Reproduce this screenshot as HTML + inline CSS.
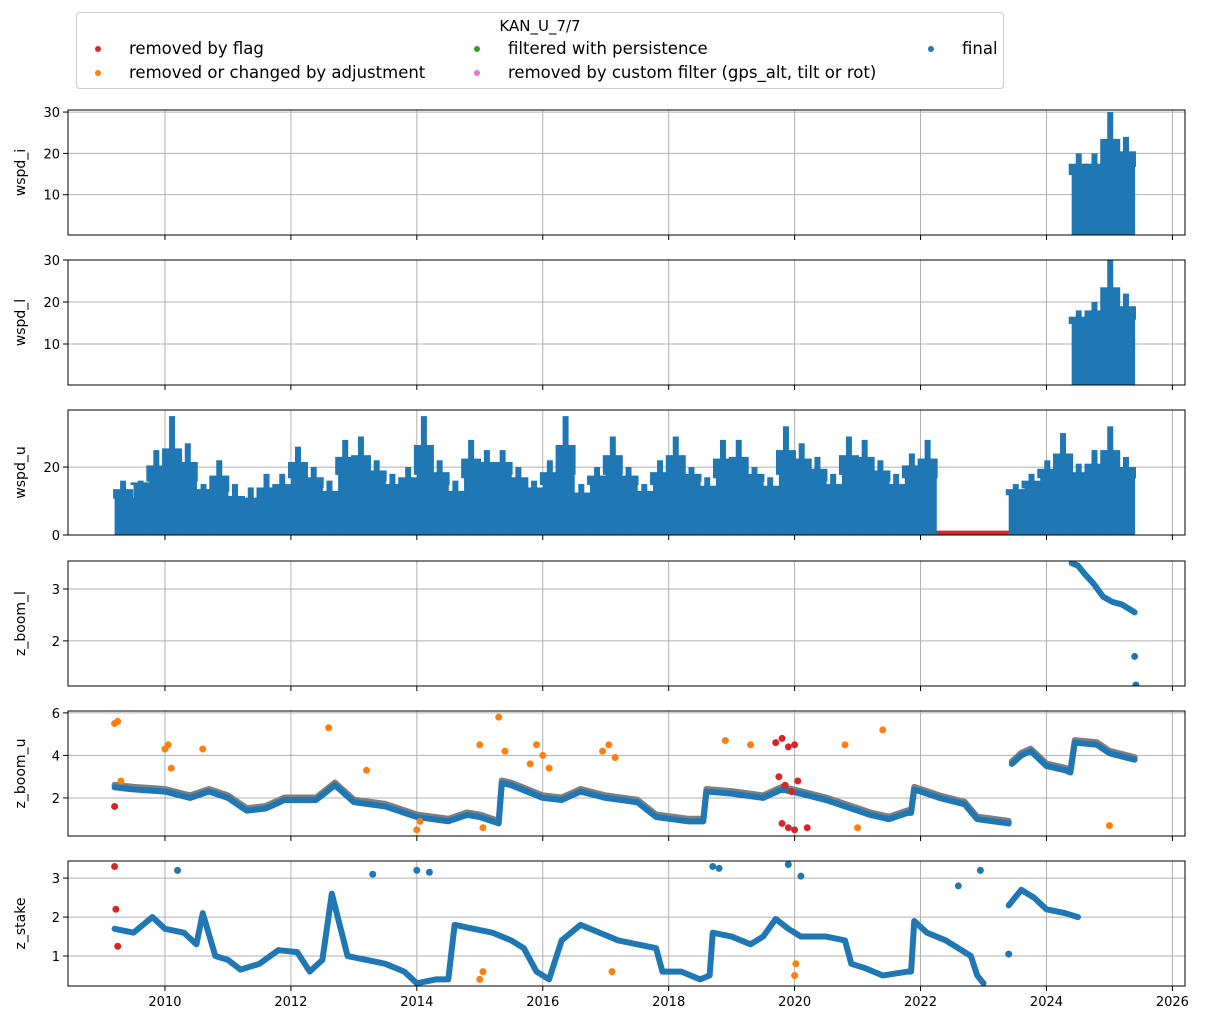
<!DOCTYPE html>
<html><head><meta charset="utf-8">
<style>
body{margin:0;background:#fff;}
svg{display:block;font-family:"DejaVu Sans","Liberation Sans",sans-serif;}
</style></head>
<body>
<svg id="chart" width="1205" height="1025" xmlns="http://www.w3.org/2000/svg"></svg>
<script>
// ---- data ----
const xTicks=[2010,2012,2014,2016,2018,2020,2022,2024,2026];
const wspdUStart=[2009.2,2009.5,2009.75,2010.0,2010.25,2010.5,2010.75,2011.0,2011.25,2011.5,2011.75,2012.0,2012.25,2012.5,2012.75,2013.0,2013.25,2013.5,2013.75,2014.0,2014.25,2014.5,2014.75,2015.0,2015.25,2015.5,2015.75,2016.0,2016.25,2016.5,2016.75,2017.0,2017.25,2017.5,2017.75,2018.0,2018.25,2018.5,2018.75,2019.0,2019.25,2019.5,2019.75,2020.0,2020.25,2020.5,2020.75,2021.0,2021.25,2021.5,2021.75,2022.0];
const wspdUMax=[16,16,25,35,27,15,22,15,14,18,18,26,20,16,28,29,22,18,20,35,22,16,28,25,25,20,16,22,35,15,20,29,20,15,22,29,20,17,28,28,20,17,32,27,23,18,29,28,22,18,24,28];
const wspdUBase=[11,15,16,16,16,12,13,8,8,10,12,17,14,10,18,18,16,12,14,18,15,10,17,18,18,14,12,15,18,10,15,18,15,11,15,18,16,12,17,18,16,12,18,18,16,12,18,18,16,12,17,17];
const wspdUEnd=2022.25;
const wspdU2Start=[2023.4,2023.65,2023.9,2024.15,2024.4,2024.65,2024.9,2025.15];
const wspdU2Max=[15,18,22,30,21,25,32,23];
const wspdU2Base=[12,14,17,18,16,17,18,17];
const wspdU2End=2025.4;
const wspdLStart=[2024.4,2024.65,2024.9,2025.15];
const wspdLMax=[18,20,30,22];
const wspdLBase=[15,16,17,16];
const wspdIMax=[20,20,30,24];
const wspdIBase=[15,15,17,17];
const wspdLEnd=2025.4;
const flagLine=[2022.2,2023.4,0.7];
const zBoomLT=[2024.4,2024.5,2024.6,2024.75,2024.9,2025.05,2025.2,2025.4];
const zBoomLV=[3.5,3.45,3.3,3.1,2.85,2.75,2.7,2.55];
const zBoomLOutT=[2025.4,2025.42];
const zBoomLOutV=[1.7,1.15];
const zUT=[2009.2,2009.5,2010,2010.4,2010.7,2011,2011.3,2011.6,2011.9,2012.4,2012.7,2013,2013.5,2014,2014.5,2014.8,2015.0,2015.3,2015.35,2015.5,2016,2016.3,2016.6,2017,2017.5,2017.8,2018.3,2018.55,2018.6,2019,2019.5,2019.8,2020.1,2020.5,2020.8,2021.2,2021.5,2021.8,2021.85,2021.9,2022.3,2022.7,2022.9,2023.4];
const zUV=[2.5,2.4,2.3,2.0,2.3,2.0,1.4,1.5,1.9,1.9,2.6,1.8,1.6,1.1,0.9,1.2,1.1,0.8,2.7,2.6,2.0,1.9,2.3,2.0,1.8,1.1,0.9,0.9,2.3,2.2,2.0,2.4,2.2,1.9,1.6,1.2,1.0,1.3,1.3,2.4,2.0,1.7,1.0,0.8];
const zU2T=[2023.45,2023.6,2023.75,2024.0,2024.3,2024.38,2024.45,2024.8,2025.0,2025.4];
const zU2V=[3.6,4.0,4.2,3.5,3.3,3.2,4.6,4.5,4.1,3.8];
const zUOrT=[2009.2,2009.25,2009.3,2010,2010.05,2010.1,2010.6,2012.6,2013.2,2014,2014.05,2015,2015.05,2015.3,2015.4,2015.8,2015.9,2016.0,2016.1,2016.95,2017.05,2017.15,2018.9,2019.3,2020.8,2021.0,2021.4,2025.0];
const zUOrV=[5.5,5.6,2.8,4.3,4.5,3.4,4.3,5.3,3.3,0.5,0.9,4.5,0.6,5.8,4.2,3.6,4.5,4.0,3.4,4.2,4.5,3.9,4.7,4.5,4.5,0.6,5.2,0.7];
const zURedT=[2009.2,2019.7,2019.8,2019.9,2020.0,2019.75,2019.85,2019.95,2020.05,2019.8,2019.9,2020.0,2020.2];
const zURedV=[1.6,4.6,4.8,4.4,4.5,3.0,2.6,2.3,2.8,0.8,0.6,0.5,0.6];
const zSt=[2009.2,2009.5,2009.8,2010.0,2010.3,2010.5,2010.6,2010.8,2011.0,2011.2,2011.5,2011.8,2012.1,2012.3,2012.5,2012.65,2012.9,2013.2,2013.5,2013.8,2014.0,2014.3,2014.5,2014.6,2014.9,2015.2,2015.5,2015.7,2015.9,2016.1,2016.3,2016.6,2016.9,2017.2,2017.5,2017.8,2017.9,2018.2,2018.5,2018.65,2018.7,2019.0,2019.3,2019.5,2019.7,2019.9,2020.1,2020.5,2020.8,2020.9,2021.1,2021.4,2021.8,2021.85,2021.9,2022.1,2022.4,2022.6,2022.8,2022.9,2023.0];
const zSv=[1.7,1.6,2.0,1.7,1.6,1.3,2.1,1.0,0.9,0.65,0.8,1.15,1.1,0.6,0.9,2.6,1.0,0.9,0.8,0.6,0.3,0.4,0.4,1.8,1.7,1.6,1.4,1.2,0.6,0.4,1.4,1.8,1.6,1.4,1.3,1.2,0.6,0.6,0.4,0.5,1.6,1.5,1.3,1.5,1.95,1.7,1.5,1.5,1.4,0.8,0.7,0.5,0.6,0.6,1.9,1.6,1.4,1.2,1.0,0.5,0.3];
const zS2t=[2023.4,2023.6,2023.8,2024.0,2024.3,2024.5];
const zS2v=[2.3,2.7,2.5,2.2,2.1,2.0];
const zSOutT=[2010.2,2013.3,2014.0,2014.2,2018.7,2018.8,2019.9,2020.1,2022.6,2022.95,2023.4];
const zSOutV=[3.2,3.1,3.2,3.15,3.3,3.25,3.35,3.05,2.8,3.2,1.05];
const zSRedT=[2009.2,2009.22,2009.25];
const zSRedV=[3.3,2.2,1.25];
const zSOrT=[2015.0,2015.05,2017.1,2020.0,2020.02];
const zSOrV=[0.4,0.6,0.6,0.5,0.8];

// ---- helpers ----
const NS="http://www.w3.org/2000/svg";
const svg=document.getElementById('chart');
const X0=68,X1=1185,T0=2008.46,T1=2026.2;
const xs=t=>X0+(t-T0)/(T1-T0)*(X1-X0);
const BLUE='#1f77b4',RED='#d62728',OR='#ff7f0e',GRAY='#7f7f7f';
function mk(tag,attrs,name,parent){const e=document.createElementNS(NS,tag);for(const k in attrs)e.setAttribute(k,attrs[k]);


(parent||svg).appendChild(e);return e;}
const panels=[
 {name:'wspd_i',top:110,ymin:0.24,ymax:30.5,ticks:[10,20,30]},
 {name:'wspd_l',top:260,ymin:0.24,ymax:30,ticks:[10,20,30]},
 {name:'wspd_u',top:410,ymin:0,ymax:36.8,ticks:[0,20]},
 {name:'z_boom_l',top:561,ymin:1.13,ymax:3.54,ticks:[2,3]},
 {name:'z_boom_u',top:711,ymin:0.21,ymax:6.09,ticks:[2,4,6]},
 {name:'z_stake',top:861,ymin:0.23,ymax:3.44,ticks:[1,2,3]}];
const H=125;
panels.forEach((p,i)=>{
 p.ys=v=>p.top+H-(v-p.ymin)/(p.ymax-p.ymin)*H;
 const g=mk('g',{},'panel-'+p.name.replace(/_/g,'-'));
 p.g=g;
 const cp=mk('clipPath',{id:'cp'+i},'clip',g);
 mk('rect',{x:X0,y:p.top,width:X1-X0,height:H},'clip-rect',cp);
 xTicks.forEach(t=>{mk('line',{x1:xs(t),x2:xs(t),y1:p.top,y2:p.top+H,stroke:'#b0b0b0','stroke-width':1},'x-grid-line',g);
  mk('line',{x1:xs(t),x2:xs(t),y1:p.top+H,y2:p.top+H+5,stroke:'#000'},'x-tick',g);
  if(i===5){const tx=mk('text',{x:xs(t),y:p.top+H+20,'font-size':13,'text-anchor':'middle'},'x-tick-label',g);tx.textContent=t;}});
 p.ticks.forEach(v=>{const y=p.ys(v);
  mk('line',{x1:X0,x2:X1,y1:y,y2:y,stroke:'#b0b0b0'},'y-grid-line',g);
  mk('line',{x1:X0-5,x2:X0,y1:y,y2:y,stroke:'#000'},'y-tick',g);
  const tx=mk('text',{x:X0-8,y:y+5,'font-size':13,'text-anchor':'end'},'y-tick-label',g);tx.textContent=v;});
 const yl=mk('text',{x:25,y:p.top+H/2,'font-size':14,'text-anchor':'middle',transform:`rotate(-90 25 ${p.top+H/2})`},'y-axis-title',g);yl.textContent=p.name;
 p.d=mk('g',{'clip-path':`url(#cp${i})`},'plot-area',g);
});
function bars(p,starts,maxes,bases,end,color){starts.forEach((t,k)=>{const t2=k+1<starts.length?starts[k+1]:end;
 const yb=p.ys(bases[k]),y0=p.ys(p.ymin);
 mk('rect',{x:xs(t),y:yb,width:xs(t2)-xs(t)+0.5,height:y0-yb,fill:color},'wind-bar',p.d);
 const ym=p.ys(maxes[k]);const cx=xs(t)+(xs(t2)-xs(t))*0.45;
 mk('rect',{x:cx-3,y:ym,width:6,height:yb-ym+1,fill:color},'wind-spike',p.d);
 mk('rect',{x:cx-10,y:p.ys((maxes[k]+bases[k])/2),width:20,height:yb-p.ys((maxes[k]+bases[k])/2)+1,fill:color},'wind-spike-base',p.d);});}
function line(p,ts,vs,color,w,name){mk('polyline',{points:ts.map((t,k)=>xs(t)+','+p.ys(vs[k])).join(' '),fill:'none',stroke:color,'stroke-width':w,'stroke-linejoin':'round','stroke-linecap':'round'},name,p.d);}
function dots(p,ts,vs,color,name){ts.forEach((t,k)=>mk('circle',{cx:xs(t),cy:p.ys(vs[k]),r:3.5,fill:color},name,p.d));}
// wspd_i, wspd_l
bars(panels[0],wspdLStart,wspdIMax,wspdIBase,wspdLEnd,BLUE);
bars(panels[1],wspdLStart,wspdLMax,wspdLBase,wspdLEnd,BLUE);
// wspd_u
line(panels[2],[flagLine[0],flagLine[1]],[flagLine[2],flagLine[2]],RED,4,'flag-removed-line');
bars(panels[2],wspdUStart,wspdUMax,wspdUBase,wspdUEnd,BLUE);
bars(panels[2],wspdU2Start,wspdU2Max,wspdU2Base,wspdU2End,BLUE);
// z_boom_l
line(panels[3],zBoomLT,zBoomLV,BLUE,6,'z-boom-l-line');
dots(panels[3],zBoomLOutT,zBoomLOutV,BLUE,'z-boom-l-outlier');
// z_boom_u
line(panels[4],zUT,zUV.map(v=>v+0.12),GRAY,6,'z-boom-u-raw-line');
line(panels[4],zU2T,zU2V.map(v=>v+0.12),GRAY,6,'z-boom-u-raw-line');
line(panels[4],zUT,zUV,BLUE,6,'z-boom-u-line');
line(panels[4],zU2T,zU2V,BLUE,6,'z-boom-u-line');
dots(panels[4],zUOrT,zUOrV,OR,'z-boom-u-adjusted');
dots(panels[4],zURedT,zURedV,RED,'z-boom-u-flagged');
// z_stake
line(panels[5],zSt,zSv,BLUE,6,'z-stake-line');
line(panels[5],zS2t,zS2v,BLUE,6,'z-stake-line');
dots(panels[5],zSOutT,zSOutV,BLUE,'z-stake-outlier');
dots(panels[5],zSRedT,zSRedV,RED,'z-stake-flagged');
dots(panels[5],zSOrT,zSOrV,OR,'z-stake-adjusted');
panels.forEach(p=>mk('rect',{x:X0,y:p.top,width:X1-X0,height:H,fill:'none',stroke:'#000','stroke-width':1},'axes-frame',p.g));
// legend
const lg=mk('g',{},'legend');
mk('rect',{x:76.5,y:12.5,width:927,height:76,rx:3,fill:'#fff',stroke:'#ccc'},'legend-box',lg);
const lt=mk('text',{x:540,y:31,'font-size':15,'text-anchor':'middle'},'legend-title',lg);lt.textContent='KAN_U_7/7';
const items=[[98,49,RED,'removed by flag'],[98,73,OR,'removed or changed by adjustment'],[477,49,'#2ca02c','filtered with persistence'],[477,73,'#e377c2','removed by custom filter (gps_alt, tilt or rot)'],[931,49,BLUE,'final']];
items.forEach(it=>{mk('circle',{cx:it[0],cy:it[1],r:3,fill:it[2]},'legend-marker',lg);
 const t=mk('text',{x:it[0]+31,y:it[1]+5,'font-size':16.5,textLength:0},'legend-entry',lg);t.removeAttribute('textLength');t.textContent=it[3];});
items[4]&&0;
</script>
</body></html>
